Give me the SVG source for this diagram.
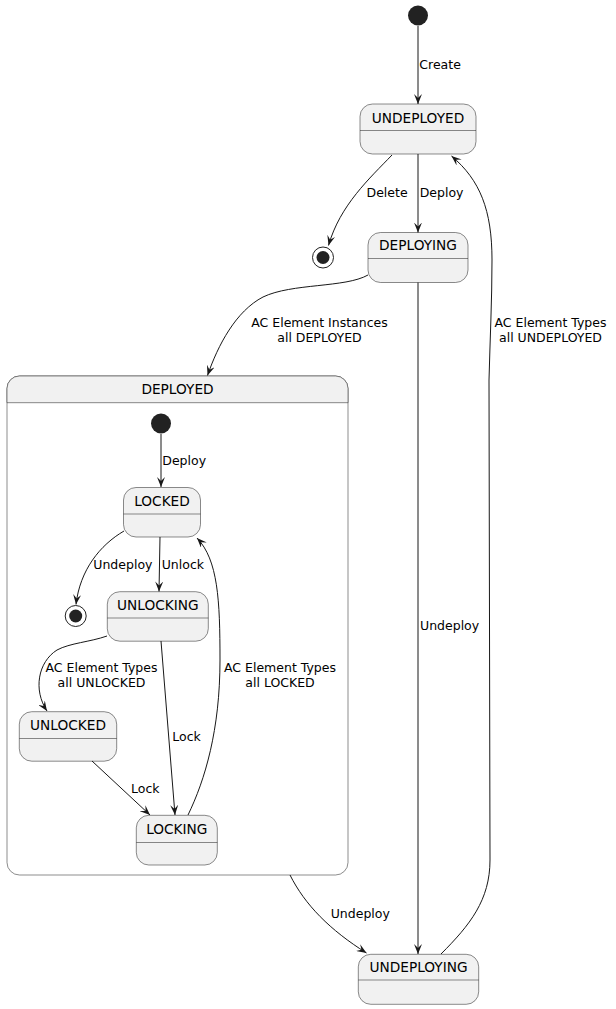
<svg xmlns="http://www.w3.org/2000/svg" width="616" height="1009" viewBox="0 0 616 1009">
<style>
.st{fill:#F1F1F1;stroke:#181818;stroke-width:0.5}
.sep{stroke:#181818;stroke-width:0.5;fill:none}
.t{font-family:"DejaVu Sans",sans-serif;font-size:13.7px;fill:#000;text-anchor:middle}
.l{font-family:"DejaVu Sans",sans-serif;font-size:12.5px;fill:#000}
.lc{font-family:"DejaVu Sans",sans-serif;font-size:12.5px;fill:#000;text-anchor:middle}
.e{fill:none;stroke:#181818;stroke-width:1;marker-end:url(#ah)}
</style>
<defs>
<marker id="ah" viewBox="0 0 10 8" refX="10" refY="4" markerWidth="10" markerHeight="8" markerUnits="userSpaceOnUse" orient="auto">
<path d="M0,0 L10,4 L0,8 L4,4 Z" fill="#181818"/>
</marker>
</defs>
<rect width="616" height="1009" fill="#FFFFFF"/>

<g id="start"><circle cx="418" cy="15.5" r="10" fill="#222222"/></g>
<g id="UNDEPLOYED">
<rect class="st" x="360" y="104" width="116" height="50" rx="12.5"/>
<line class="sep" x1="360" y1="130.5" x2="476" y2="130.5"/>
<text class="t" x="418" y="122.5">UNDEPLOYED</text>
</g>
<g id="end1"><circle cx="323" cy="257.5" r="10.5" fill="none" stroke="#222222" stroke-width="1"/><circle cx="323" cy="257.5" r="6.5" fill="#222222"/></g>
<g id="DEPLOYING">
<rect class="st" x="368" y="232.5" width="100" height="50" rx="12.5"/>
<line class="sep" x1="368" y1="258.5" x2="468" y2="258.5"/>
<text class="t" x="418" y="250">DEPLOYING</text>
</g>
<g id="DEPLOYED">
<rect x="7" y="376" width="341" height="499" rx="12.5" fill="#FFFFFF" stroke="#181818" stroke-width="0.5"/>
<path d="M7,402.7 L7,388.5 A12.5,12.5 0 0 1 19.5,376 L335.5,376 A12.5,12.5 0 0 1 348,388.5 L348,402.7 Z" class="st"/>
<text class="t" x="177.5" y="394">DEPLOYED</text>
</g>
<g id="start2"><circle cx="161" cy="423.5" r="10" fill="#222222"/></g>
<g id="LOCKED">
<rect class="st" x="123.5" y="487.5" width="77" height="49.5" rx="12.5"/>
<line class="sep" x1="123.5" y1="514" x2="200.5" y2="514"/>
<text class="t" x="162" y="506">LOCKED</text>
</g>
<g id="end2"><circle cx="75.7" cy="616" r="10.5" fill="none" stroke="#222222" stroke-width="1"/><circle cx="75.7" cy="616" r="6.5" fill="#222222"/></g>
<g id="UNLOCKING">
<rect class="st" x="107.3" y="591.7" width="101" height="49.5" rx="12.5"/>
<line class="sep" x1="107.3" y1="618" x2="208.3" y2="618"/>
<text class="t" x="157.8" y="610">UNLOCKING</text>
</g>
<g id="UNLOCKED">
<rect class="st" x="19.3" y="711.7" width="97.4" height="49.5" rx="12.5"/>
<line class="sep" x1="19.3" y1="738.5" x2="116.7" y2="738.5"/>
<text class="t" x="68" y="730">UNLOCKED</text>
</g>
<g id="LOCKING">
<rect class="st" x="136.3" y="815.3" width="81" height="49.7" rx="12.5"/>
<line class="sep" x1="136.3" y1="842.5" x2="217.3" y2="842.5"/>
<text class="t" x="176.8" y="834">LOCKING</text>
</g>
<g id="UNDEPLOYING">
<rect class="st" x="358.3" y="954.3" width="120.4" height="50" rx="12.5"/>
<line class="sep" x1="358.3" y1="980" x2="478.7" y2="980"/>
<text class="t" x="418.5" y="971.7">UNDEPLOYING</text>
</g>

<g id="connectors">
<path class="e" d="M418,26 L418,104"/>
<text class="l" x="419.3" y="69">Create</text>
<path class="e" d="M392,155 C370,178 340,205 328.5,245.5"/>
<text class="l" x="366.5" y="196.7">Delete</text>
<path class="e" d="M418,154 L418,232.5"/>
<text class="l" x="419.7" y="196.7">Deploy</text>
<path class="e" d="M368,275 C345,288 292,283 263,297 C236,311 218,345 207.5,375.5"/>
<text class="lc" x="319.5" y="327">AC Element Instances</text>
<text class="lc" x="319.5" y="342">all DEPLOYED</text>
<path class="e" d="M418,282.5 L418,954"/>
<text class="l" x="420" y="630">Undeploy</text>
<path class="e" d="M441,954 C470,925 490,900 490,860 L489,380 C490,340 492,300 492,260 C492,210 480,180 451.5,156"/>
<text class="lc" x="550.5" y="327">AC Element Types</text>
<text class="lc" x="550.5" y="342">all UNDEPLOYED</text>
<path class="e" d="M290,875 C305,905 330,930 366.5,953"/>
<text class="l" x="330.7" y="918.3">Undeploy</text>
<path class="e" d="M161,434 L161,487"/>
<text class="l" x="162.3" y="465">Deploy</text>
<path class="e" d="M124,531 C100,545 80,570 76,604.5"/>
<text class="l" x="93.3" y="569">Undeploy</text>
<path class="e" d="M160,537 L159,591.5"/>
<text class="l" x="161.7" y="569">Unlock</text>
<path class="e" d="M107,636 C90,642 70,643 57,650 C38,662 33,690 47,711"/>
<text class="lc" x="101.5" y="672">AC Element Types</text>
<text class="lc" x="101.5" y="687">all UNLOCKED</text>
<path class="e" d="M161,641 L175,815"/>
<text class="l" x="172.3" y="741">Lock</text>
<path class="e" d="M92,761 L150,815"/>
<text class="l" x="131" y="793">Lock</text>
<path class="e" d="M188,815 C205,780 220,730 220,660 C220,600 218,560 197,538"/>
<text class="lc" x="280" y="672">AC Element Types</text>
<text class="lc" x="280" y="687">all LOCKED</text>
</g>
</svg>
